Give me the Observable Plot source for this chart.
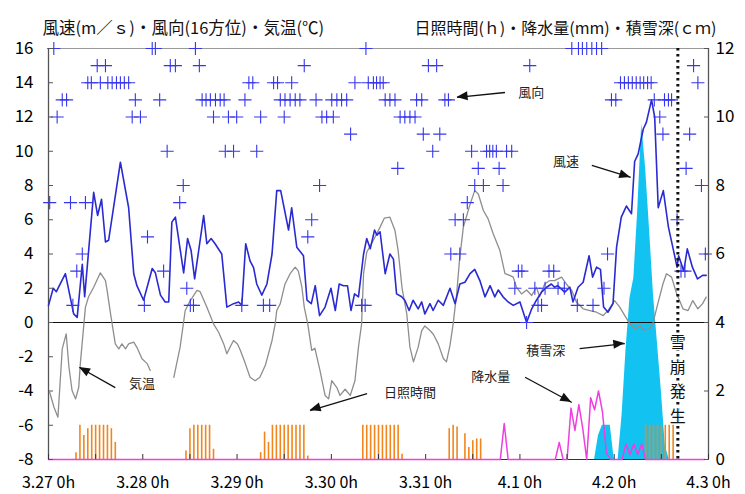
<!DOCTYPE html>
<html><head><meta charset="utf-8">
<script src="https://cdn.jsdelivr.net/npm/d3@7"></script>
<script src="https://cdn.jsdelivr.net/npm/@observablehq/plot@0.6"></script>
<style>body{margin:0;background:#fff}</style>
</head><body><div id="chart"></div>
<script>
// ---- data (hours since 3.27 0h) ----
const dayLabels = ["3.27 0h","3.28 0h","3.29 0h","3.30 0h","3.31 0h","4.1 0h","4.2 0h","4.3 0h"];
const leftTicks = [-8,-6,-4,-2,0,2,4,6,8,10,12,14,16];
const rightTickValues = [0,2,4,6,8,10,12];
const tickHours = [0,12,24,36,48,60,72,84,96,108,120,132,144,156,168];
const leftTitle = "風速(m／ｓ)・風向(16方位)・気温(℃)";
const rightTitle = "日照時間(ｈ)・降水量(mm)・積雪深(ｃｍ)";

// wind speed [hour, m/s]
const windSpeed = [[0,1.0],[1.2,2.0],[2,1.8],[4.3,2.85],[6.4,0.5],[7.3,0.3],[8.6,3.4],[9.2,1.5],[11.5,7.6],[12.5,6.25],
[13.5,7.2],[14.5,4.7],[15.3,4.8],[18.3,9.36],[20.4,6.7],[21.7,2.85],[22.5,2.15],[24.2,1.3],[26.4,3.15],[27.2,2.9],
[28.5,1.6],[29.7,1.2],[30.6,1.2],[31.4,5.86],[32.3,6.15],[34.4,2.9],[35.4,4.9],[36.3,4.2],[37.2,2.55],[39.5,6.25],
[40.3,4.6],[41.4,4.9],[42.4,4.6],[44.1,4.0],[45.4,0.9],[47.1,1.1],[48.4,1.2],[49.2,1.0],[50.2,4.6],[51.3,3.6],
[52.2,3.2],[53,2.25],[54.3,1.6],[55.6,2.25],[56.9,4.0],[58.1,7.7],[59.1,7.7],[61.1,5.4],[61.9,6.7],[63.2,4.4],
[64.9,3.9],[65.8,1.3],[66.9,1.1],[67.9,2.15],[69,0.4],[70.4,0.9],[71.9,2.0],[73,0.7],[74,2.25],[75.1,2.15],
[76.1,2.15],[77,0.7],[77.9,1.67],[78.9,1.5],[80.2,4.0],[81,4.9],[81.9,4.3],[83,5.4],[83.6,5.1],[84.4,5.3],
[85.7,2.85],[86.9,4.0],[87.8,3.7],[88.6,1.67],[89.9,1.5],[90.7,1.3],[91.8,0.7],[92.8,1.3],[94.1,0.8],[95,1.2],
[95.8,0.5],[97.1,1.1],[97.9,0.7],[99.2,1.3],[100.5,1.0],[102.2,2.0],[103.5,1.1],[104.7,2.25],[106,2.35],[107.3,2.85],
[108.5,3.1],[109.8,2.45],[111.1,1.5],[112.4,2.15],[113.6,1.5],[114.5,1.9],[115.7,1.5],[117,1.2],[118.3,1.0],[120,1.2],
[121.7,0.0],[123,0.8],[124.2,1.3],[125.5,1.77],[126.8,2.06],[128,2.25],[128.8,2.06],[129.6,2.15],[131.4,1.77],[132.7,2.06],
[133.5,1.2],[134.8,2.06],[136.1,2.35],[137.6,3.9],[138.5,2.65],[139.5,3.23],[140.5,3.1],[141.3,0.9],[142.4,0.6],[143.7,1.1],
[144.6,4.4],[145.8,6.15],[147.1,6.8],[148.4,6.35],[149.2,9.4],[150.1,9.85],[151.4,11.3],[152.2,11.7],[153.5,13.0],[154.3,12.0],
[155.2,6.7],[156.5,7.7],[157.8,5.57],[159.1,4.2],[160,3.23],[160.4,3.9],[161.7,3.0],[162.6,4.3],[163.9,3.23],[165.2,2.55],
[166.5,2.75],[167.4,2.75]];

// air temperature [hour, °C]  (null = missing)
const temperature = [[0.3,-4.07],[1.4,-4.95],[2.4,-5.53],[3.5,-1.54],[4.5,-0.66],[5.2,-2.6],[6,-3.97],[6.9,-4.46],[7.7,-3.78],[8.1,-2.4],
[9.4,0.9],[10.2,1.5],[11.5,2.06],[13.2,2.9],[14.5,2.45],[14.9,1.9],[15.8,0.5],[16.6,-0.66],[17,-1.25],[17.9,-1.54],
[18.7,-1.25],[19.6,-1.54],[20.4,-1.25],[21.7,-1.15],[22.5,-1.45],[23.8,-2.12],[25.1,-2.4],[25.9,-2.8],[29,null],[31.9,-3.2],
[33.5,-1.44],[34.8,0.7],[36.1,1.28],[37.8,1.87],[38.6,1.8],[40.3,0.9],[42,-0.08],[43.3,-0.57],[44.6,-1.25],[45.4,-1.83],
[46.3,-1.4],[47.1,-1.05],[48.1,-1.25],[48.8,-1.6],[50.1,-2.4],[51.3,-3.2],[52.6,-3.4],[53.8,-3.2],[55.2,-2.5],[56.9,-1.05],
[57.7,-0.08],[58.1,0.7],[59,1.1],[60.2,2.25],[61.5,2.85],[62.8,3.23],[63.6,3.0],[64.5,2.06],[65.1,0.9],[66,-0.1],
[67,-1.63],[67.8,-1.5],[69.1,-2.8],[70.4,-4.26],[71.3,-4.46],[72.1,-3.39],[73.4,-3.8],[74.2,-4.26],[75.5,-3.9],[76.8,-4.26],
[78,-3.4],[78.9,-1.44],[79.7,-0.08],[80.2,2.85],[81,4.1],[82.7,4.8],[84.4,5.57],[85.5,6.1],[86.9,6.15],[88.2,5.37],
[89,4.2],[90,2.0],[91.2,0.5],[92,-1.44],[92.9,-2.3],[94.1,-1.44],[95,-0.47],[95.8,-0.2],[97.1,-0.47],[98,-0.7],
[99.2,-1.25],[100.5,-2.1],[101.3,-2.3],[102.2,-1.34],[103,-0.08],[103.9,1.67],[104.6,3.6],[105.6,5.57],[107.3,6.9],[108.5,7.7],
[109.4,7.5],[110.7,6.54],[111.9,6.05],[113.2,5.18],[114.9,4.2],[116.2,2.85],[117.4,2.75],[118.3,2.65],[119.1,2.06],[120.4,1.67],
[121.7,1.9],[123,1.58],[124.2,2.06],[125,1.5],[126.3,2.25],[127.6,2.45],[128.8,2.45],[130.6,2.65],[131.8,2.25],[133.2,1.87],
[134.4,1.18],[136.1,0.8],[137.8,0.7],[139.5,0.6],[141.2,0.4],[142.4,0.7],[144.1,1.28],[145.4,0.9],[146.7,0.4],[148,-0.08],
[149.2,-0.37],[150.5,-0.2],[151.7,-0.45],[153,-0.37],[153.9,0],[155.1,1.1],[156.4,2.25],[157.3,2.85],[158.6,2.65],[159.9,1.67],
[160.6,1.3],[161.5,0.8],[162.8,0.7],[164,1.28],[165.3,0.8],[166.5,1.1],[167.4,1.48]];

// wind direction [hour, 16-point index]
const windDirection = [[0.3,7],[1.35,16],[2.2,12],[3.5,13],[4.6,13],[5.6,7],[6.2,1],[7.2,3],[8.6,4],[9.4,7],
[10,14],[10.9,14],[12.4,15],[13.2,14],[14.5,15],[15.1,14],[16.2,14],[17.3,14],[18.3,14],[19.3,14],[20.4,14],
[21.3,12],[22.1,13],[23.4,12],[24.4,1],[25.2,5],[26.4,16],[27.2,16],[28.3,13],[29.3,3],[30.2,10],[31,15],[32.3,15],
[33.4,7],[34.3,8],[35.2,2],[36.1,1],[36.9,1],[37.4,16],[38.4,15],[39.1,13],[40.1,13],[41.2,13],[42,12],[42.5,13],
[43.7,13],[44.7,13],[45,10],[45.8,12],[47.1,10],[47.9,12],[49.2,1],[50,13],[51,14],[52,14],[53,10],[54,12],
[54.7,1],[56.3,1],[57.3,14],[58.3,14],[59,13],[60,12],[60.2,13],[61.5,13],[61.9,14],[62.8,13],[64,13],[65.1,15],
[66,5],[67,6],[68.1,13],[69,8],[69.6,12],[70.8,12],[72.5,12],[72.1,13],[73.4,13],[74.6,13],[75.9,13],[76.9,11],
[78,14],[79.7,1],[80.6,1],[80.8,16],[81.4,14],[82.7,14],[83.5,14],[84.4,14],[85.2,14],[85.7,13],[86.9,13],[88.2,13],
[88.9,9],[89.5,12],[90.7,12],[92,12],[93.3,12],[93.7,13],[95,13],[95.4,11],[96.7,15],[97.8,10],[98.8,15],[99.6,11],
[100.9,13],[101.8,13],[102.4,4],[103.5,6],[104.7,4],[105.6,6],[106.6,7],[107.7,10],[108.5,8],[109.4,9],[110.7,8],
[111.5,10],[112.3,10],[113.1,10],[114,10],[114.7,9],[115.7,8],[116.6,10],[117.9,10],[118.7,2],[119.6,3],[120.5,3],
[121.7,0],[122.5,15],[123.8,2],[124.6,1],[125.5,1],[126.4,2],[127.4,3],[128.6,3],[129.7,2],[131.3,2],
[133.2,16],[134.9,16],[135.9,16],[137,16],[138.3,16],[139.5,16],[140.8,16],[134.6,1],[138.6,1],[141.4,2],[142.3,4],
[143.3,13],[144.4,13],[145.6,14],[146.6,14],[147.6,14],[148.6,14],[149.6,14],[150.6,14],[151.5,14],[152.5,14],[153.4,14],
[154.2,13],[155.6,12],[156.4,11],[156.8,13],[157.8,13],[158.6,13],[160,6],[161,3],[162,3],[162.3,9],[163.2,11],
[164.2,15],[165.3,14],[166.2,8],[167.2,4]];

// hourly sunshine (h), one row per day
const sunshine = [
 0,0,0,0,0,0,0,0.2,1.0,0.7,0.9,1.0,1.0,1.0,1.0,1.0,0.9,0.5,0,0,0,0,0,0,
 0,0,0,0,0,0,0,0,0,0,0,0.25,0.9,1.0,1.0,1.0,1.0,1.0,0.3,0,0,0,0,0,
 0,0,0,0,0,0,0.2,0.8,0.5,1.0,1.0,1.0,1.0,1.0,1.0,1.0,1.0,1.0,0.1,0,0,0,0,0,
 0,0,0,0,0,0,0,0,1.0,1.0,1.0,1.0,1.0,1.0,1.0,1.0,1.0,1.0,0.15,0,0,0,0,0,
 0,0,0,0,0,0,0.9,1.0,0.95,0,0.75,0.35,0.55,0.6,0.6,0,0,0,0,0,0,0,0,0,
 0,0,0,0,0,0,0,0,0,0,0,0,0,0,0,0,0,0,0,0,0,0,0,0,
 0,0,0,0,0,0,0,0,1,1,1,1,1,1,1,1,0,0,0,0,0,0,0,0];

// hourly precipitation (mm)
const precipitation = [
 0,0,0,0,0,0,0,0,0,0,0,0,0,0,0,0,0,0,0,0,0,0,0,0,
 0,0,0,0,0,0,0,0,0,0,0,0,0,0,0,0,0,0,0,0,0,0,0,0,
 0,0,0,0,0,0,0,0,0,0,0,0,0,0,0,0,0,0,0,0,0,0,0,0,
 0,0,0,0,0,0,0,0,0,0,0,0,0,0,0,0,0,0,0,0,0,0,0,0,
 0,0,0,0,0,0,0,0,0,0,0,0,0,0,0,0,0,0,0,0,1.05,0,0,0,
 0,0,0,0,0,0,0,0,0,0,0.5,0,0,1.5,0.85,1.6,0.9,0,1.8,1.45,2.0,1.4,0.2,0,
 0,0,0,0.45,0.15,0.45,0.15,0.45,0,0,0,0,0,0,0,0,0,0,0,0,0,0,0,0];

// hourly snow depth (cm)
const snowDepth = [
 0,0,0,0,0,0,0,0,0,0,0,0,0,0,0,0,0,0,0,0,0,0,0,0,
 0,0,0,0,0,0,0,0,0,0,0,0,0,0,0,0,0,0,0,0,0,0,0,0,
 0,0,0,0,0,0,0,0,0,0,0,0,0,0,0,0,0,0,0,0,0,0,0,0,
 0,0,0,0,0,0,0,0,0,0,0,0,0,0,0,0,0,0,0,0,0,0,0,0,
 0,0,0,0,0,0,0,0,0,0,0,0,0,0,0,0,0,0,0,0,0,0,0,0,
 0,0,0,0,0,0,0,0,0,0,0,0,0,0,0,0,0,0,0,0,0.7,1.0,1.0,1.0,
 0,0,1.3,3.2,4.7,5.3,7.3,9.8,8.5,6.7,4.8,3.4,2.0,0.4,0,0,0,0,0,0,0,0,0,0];

const avalancheHour = 160.2;
const avalancheLabel = {x: 160.2, y: -0.45, text: "雪\n崩\n発\n生"};
const notes = [
  {text:"風向", x:122.9, y:13.43, x1:116.2, y1:13.43, x2:104.0, y2:13.14},
  {text:"風速", x:131.7, y:9.4, x1:138.3, y1:9.17, x2:148.2, y2:8.47},
  {text:"気温", x:23.8, y:-3.56, x1:17.0, y1:-3.8, x2:7.9, y2:-2.63},
  {text:"日照時間", x:92.0, y:-4.09, x1:81.1, y1:-4.15, x2:66.6, y2:-5.14},
  {text:"降水量", x:112.6, y:-3.15, x1:121.3, y1:-3.2, x2:133.2, y2:-4.67},
  {text:"積雪深", x:126.6, y:-1.64, x1:135.2, y1:-1.52, x2:146.7, y2:-1.23}
];

// right axis (0..12) shares the left scale (-8..16)
const toLeft = r => r * 2 - 8;
const hourly = arr => arr.map((r, i) => ({h: i, r}));

const font = "'Noto Sans CJK JP', 'Noto Sans', sans-serif";
const chart = Plot.plot({
  width: 745, height: 494,
  marginLeft: 48, marginRight: 37, marginTop: 48, marginBottom: 35,
  x: {domain: [0, 168]},
  y: {domain: [-8, 16]},
  style: {fontFamily: font, background: "white", color: "black"},
  marks: [
    Plot.areaY(hourly(snowDepth), {x: "h", y1: () => -8, y2: d => toLeft(d.r), fill: "#12c3f2"}),
    Plot.ruleX(hourly(sunshine).filter(d => d.r > 0), {x: "h", y1: () => -8, y2: d => toLeft(d.r), stroke: "#f2861c", strokeWidth: 1.6}),
    Plot.ruleY([16], {stroke: "#9a9a9a", strokeWidth: 1.2}),
    Plot.ruleY([0], {stroke: "#111", strokeWidth: 1.2}),
    Plot.ruleX([0], {stroke: "#555", strokeWidth: 1.3}),
    Plot.ruleX([168], {stroke: "#555", strokeWidth: 1.3}),
    Plot.ruleY([-8], {stroke: "#333", strokeWidth: 1.2}),
    Plot.line(temperature, {x: d => d[0], y: d => d[1], stroke: "#8e8e8e", strokeWidth: 1.3}),
    Plot.line(hourly(precipitation), {x: "h", y: d => toLeft(d.r), stroke: "#ee3fe0", strokeWidth: 1.5}),
    Plot.line(windSpeed, {x: d => d[0], y: d => d[1], stroke: "#2a2ad2", strokeWidth: 1.6}),
    Plot.dot(windDirection, {x: d => d[0], y: d => d[1], symbol: "plus", r: 4.3, stroke: "#3636ee", strokeWidth: 1.1}),
    Plot.ruleX([avalancheHour], {stroke: "#111", strokeWidth: 3, strokeDasharray: "2.5,3.5"}),
    Plot.text([avalancheLabel], {x: "x", y: "y", text: "text", lineAnchor: "top", lineHeight: 1.55, fontSize: 16, fill: "#111", stroke: "white", strokeWidth: 2}),
    Plot.link(notes, {x1: "x1", y1: "y1", x2: "x2", y2: "y2", stroke: "#111", strokeWidth: 1.3}),
    Plot.text(notes, {x: "x", y: "y", text: "text", fontSize: 13, fill: "#222"}),
    Plot.text([leftTitle], {frameAnchor: "top-left", textAnchor: "start", dx: -6, dy: -26, fontSize: 16.5, fill: "#111"}),
    Plot.text([rightTitle], {frameAnchor: "top-right", textAnchor: "end", dx: 8, dy: -26, fontSize: 16, fill: "#111"}),
    Plot.axisY(leftTicks, {anchor: "left", tickSize: -5, tickPadding: 20, fontSize: 17, tickFormat: d => `${d}`, stroke: "#555"}),
    Plot.axisY(rightTickValues.map(toLeft), {anchor: "right", tickSize: -5, tickPadding: 12, fontSize: 17, tickFormat: d => `${(d + 8) / 2}`, stroke: "#555"}),
    Plot.axisX(tickHours, {anchor: "bottom", tickSize: -5, tickPadding: 22, fontSize: 16, tickFormat: d => d % 24 === 0 ? dayLabels[d / 24] : "", stroke: "#333"})
  ]
});
document.getElementById("chart").appendChild(chart);

// filled arrow heads, placed through the plot's own scales
const sx = chart.scale("x"), sy = chart.scale("y");
const g = d3.select(chart).append("g");
notes.forEach(a => {
  const x1 = sx.apply(a.x1), y1 = sy.apply(a.y1), x2 = sx.apply(a.x2), y2 = sy.apply(a.y2);
  const ang = Math.atan2(y2 - y1, x2 - x1), L = 11, W = 4.5;
  const bx = x2 - L * Math.cos(ang), by = y2 - L * Math.sin(ang);
  const pts = [[x2, y2], [bx + W * Math.sin(ang), by - W * Math.cos(ang)], [bx - W * Math.sin(ang), by + W * Math.cos(ang)]];
  g.append("polygon").attr("points", pts.map(p => p.join(",")).join(" ")).attr("fill", "#111");
});
</script></body></html>
